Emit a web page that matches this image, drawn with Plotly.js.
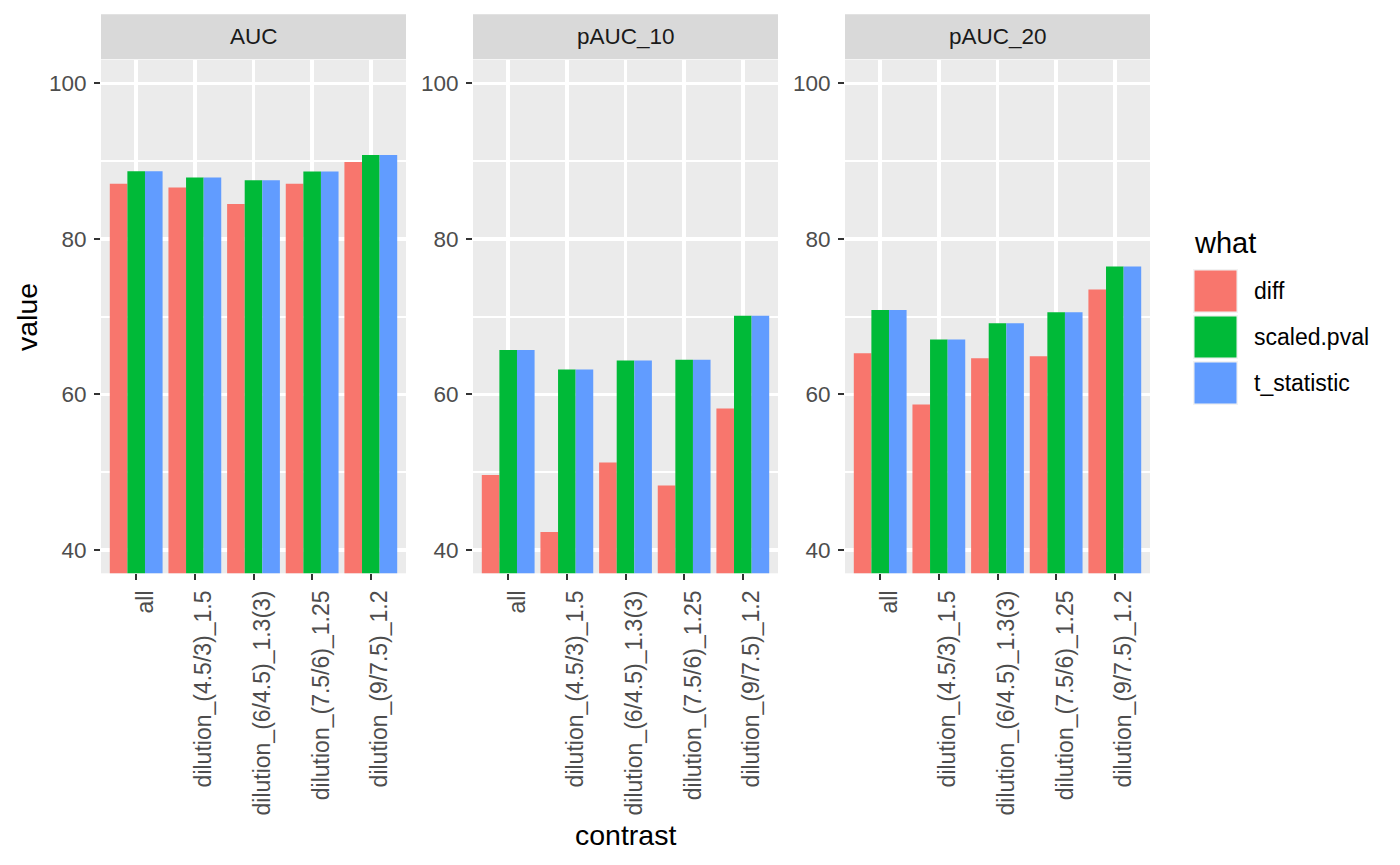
<!DOCTYPE html>
<html>
<head>
<meta charset="utf-8">
<script src="https://cdn.plot.ly/plotly-3.0.1.min.js"></script>
<style>html,body{margin:0;padding:0;background:#fff;}#chart{width:1400px;height:865px;}</style>
</head>
<body>
<div id="chart"></div>
<script>
// ---- data ----
var panels = ["AUC", "pAUC_10", "pAUC_20"];
var contrasts = ["all", "dilution_(4.5/3)_1.5", "dilution_(6/4.5)_1.3(3)", "dilution_(7.5/6)_1.25", "dilution_(9/7.5)_1.2"];
var series = ["diff", "scaled.pval", "t_statistic"];
var seriesColors = ["#F8766D", "#00BA38", "#619CFF"];

var auc_diff        = [87.1, 86.6, 84.5, 87.1, 89.9];
var auc_scaled      = [88.7, 87.9, 87.55, 88.65, 90.8];
var auc_tstat       = [88.7, 87.9, 87.55, 88.65, 90.8];
var pauc10_diff     = [49.65, 42.3, 51.25, 48.3, 58.2];
var pauc10_scaled   = [65.7, 63.2, 64.35, 64.45, 70.1];
var pauc10_tstat    = [65.7, 63.2, 64.35, 64.45, 70.1];
var pauc20_diff     = [65.3, 58.7, 64.65, 64.9, 73.5];
var pauc20_scaled   = [70.85, 67.05, 69.15, 70.55, 76.45];
var pauc20_tstat    = [70.85, 67.05, 69.15, 70.55, 76.45];

var yTicks = [40, 60, 80, 100];
var yMinor = [50, 70, 90];

var panelData = [
  [auc_diff, auc_scaled, auc_tstat],
  [pauc10_diff, pauc10_scaled, pauc10_tstat],
  [pauc20_diff, pauc20_scaled, pauc20_tstat]
];

// ---- layout helpers (pixel -> paper) ----
var W = 1400, H = 865;
function px(x) { return x / W; }
function py(y) { return 1 - y / H; }

var FONT = '"Liberation Sans", Arial, Helvetica, sans-serif';
var panelLeft = [101, 473, 845], panelWidth = 305;
var panelTop = 60, panelBottom = 573.3;
var stripTop = 14.3, stripBottom = 59.3;

var traces = [];
var layout = {
  width: W, height: H,
  margin: {l: 0, r: 0, t: 0, b: 0},
  paper_bgcolor: "#FFFFFF",
  plot_bgcolor: "#EBEBEB",
  barmode: "group",
  bargap: 0.1,
  bargroupgap: 0,
  showlegend: false,
  font: {family: FONT, color: "#000000"},
  shapes: [],
  annotations: []
};

panels.forEach(function (p, i) {
  var sx = i === 0 ? "" : String(i + 1);
  series.forEach(function (s, j) {
    traces.push({
      type: "bar",
      name: s,
      x: contrasts,
      y: panelData[i][j],
      xaxis: "x" + sx,
      yaxis: "y" + sx,
      marker: {color: seriesColors[j], line: {width: 0}},
      hoverinfo: "x+y+name"
    });
  });
  layout["xaxis" + sx] = {
    domain: [px(panelLeft[i]), px(panelLeft[i] + panelWidth)],
    anchor: "y" + sx,
    type: "category",
    categoryorder: "array",
    categoryarray: contrasts,
    range: [-0.6, 4.6],
    showgrid: true, gridcolor: "#FFFFFF", gridwidth: 3.5,
    zeroline: false, showline: false,
    ticks: "outside", ticklen: 6, tickwidth: 2, tickcolor: "#333333",
    tickangle: -90,
    tickfont: {family: FONT, size: 23, color: "#4D4D4D"},
    ticklabelstandoff: 1,
    ticklabelshift: 9,
    automargin: false,
    fixedrange: true
  };
  layout["yaxis" + sx] = {
    domain: [py(panelBottom), py(panelTop)],
    anchor: "x" + sx,
    range: [37, 103],
    tickmode: "array",
    tickvals: yTicks,
    ticktext: yTicks.map(String),
    showgrid: true, gridcolor: "#FFFFFF", gridwidth: 3.5,
    minor: {tickmode: "array", tickvals: yMinor, showgrid: true, gridcolor: "#FFFFFF", gridwidth: 1.8, ticks: ""},
    zeroline: false, showline: false,
    ticks: "outside", ticklen: 6, tickwidth: 2, tickcolor: "#333333",
    tickfont: {family: FONT, size: 22.5, color: "#4D4D4D"},
    ticklabelstandoff: 3,
    automargin: false,
    fixedrange: true
  };
  // facet strip
  layout.shapes.push({
    type: "rect", xref: "paper", yref: "paper", layer: "below",
    x0: px(panelLeft[i]), x1: px(panelLeft[i] + panelWidth),
    y0: py(stripBottom), y1: py(stripTop),
    fillcolor: "#D9D9D9", line: {width: 0}
  });
  layout.annotations.push({
    xref: "paper", yref: "paper",
    x: px(panelLeft[i] + panelWidth / 2), y: py((stripTop + stripBottom) / 2),
    xanchor: "center", yanchor: "middle", showarrow: false,
    text: p, font: {family: FONT, size: 22.5, color: "#1A1A1A"}
  });
});

// axis titles
layout.annotations.push({
  xref: "paper", yref: "paper", x: px(625), y: py(835),
  xanchor: "center", yanchor: "middle", showarrow: false,
  text: "contrast", font: {family: FONT, size: 28.5, color: "#000000"}
});
layout.annotations.push({
  xref: "paper", yref: "paper", x: px(27), y: py(317),
  xanchor: "center", yanchor: "middle", showarrow: false, textangle: -90,
  text: "value", font: {family: FONT, size: 28.5, color: "#000000"}
});

// legend (ggplot-style large keys)
layout.annotations.push({
  xref: "paper", yref: "paper", x: px(1192), y: py(243),
  xanchor: "left", yanchor: "middle", showarrow: false,
  text: "what", font: {family: FONT, size: 29, color: "#000000"}
});
var keyTop = [269, 315, 361], keyH = 44, keyL = 1193, keyW = 45;
series.forEach(function (s, j) {
  layout.shapes.push({
    type: "rect", xref: "paper", yref: "paper",
    x0: px(keyL), x1: px(keyL + keyW), y0: py(keyTop[j] + keyH), y1: py(keyTop[j]),
    fillcolor: "#F2F2F2", line: {width: 0}
  });
  layout.shapes.push({
    type: "rect", xref: "paper", yref: "paper",
    x0: px(keyL + 1.5), x1: px(keyL + keyW - 1.5), y0: py(keyTop[j] + keyH - 1.5), y1: py(keyTop[j] + 1.5),
    fillcolor: seriesColors[j], line: {width: 0}
  });
  layout.annotations.push({
    xref: "paper", yref: "paper", x: px(1252), y: py(keyTop[j] + keyH / 2),
    xanchor: "left", yanchor: "middle", showarrow: false,
    text: s, font: {family: FONT, size: 23, color: "#000000"}
  });
});

Plotly.newPlot("chart", traces, layout, {staticPlot: true, displayModeBar: false});
</script>
</body>
</html>
